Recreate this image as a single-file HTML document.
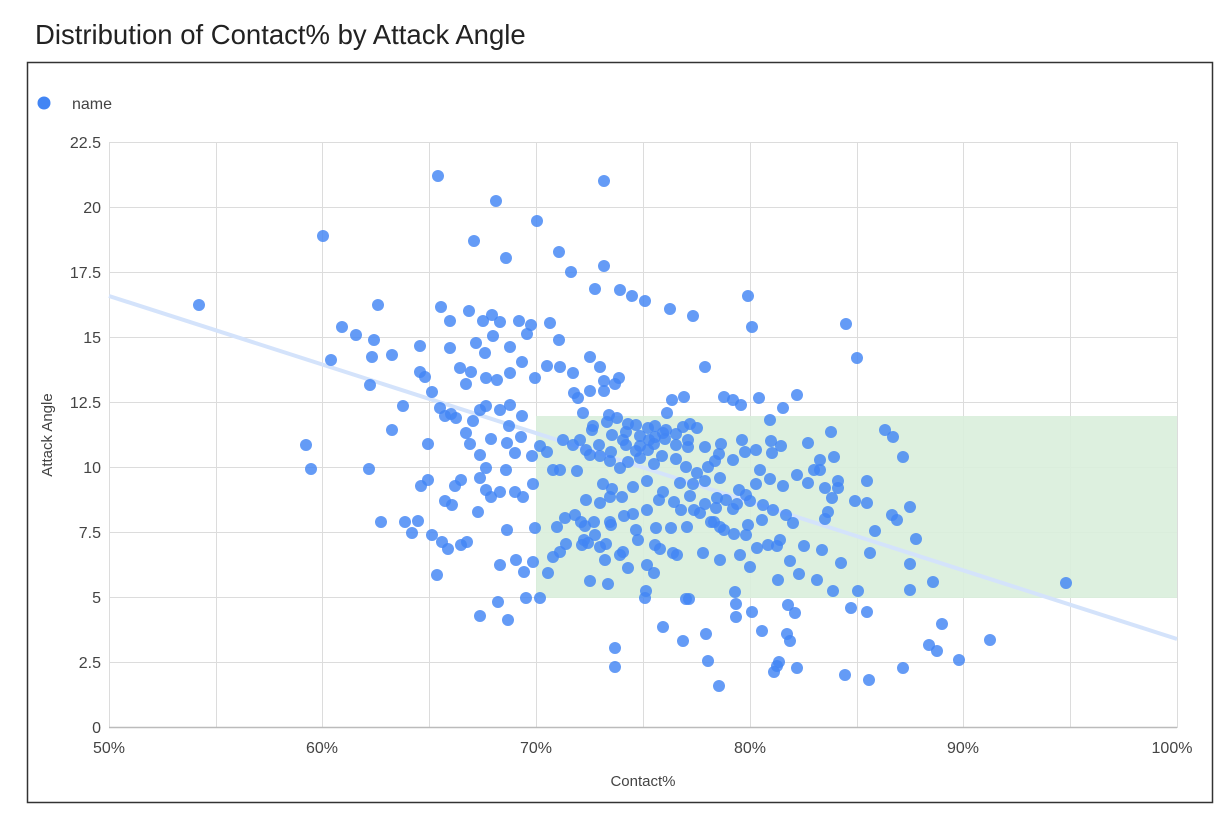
<!DOCTYPE html>
<html><head><meta charset="utf-8"><style>
body{margin:0;background:#fff;width:1232px;height:822px;overflow:hidden;font-family:"Liberation Sans",Arial,sans-serif}
</style></head><body>
<svg width="1232" height="822" xmlns="http://www.w3.org/2000/svg" font-family="Liberation Sans, Arial, sans-serif">
<text x="35" y="44" font-size="27.5" fill="#222">Distribution of Contact% by Attack Angle</text>
<rect x="27.5" y="62.5" width="1185" height="740" fill="#fff" stroke="#333" stroke-width="1.5"/>
<circle cx="44" cy="103" r="6.5" fill="#4285f4"/>
<text x="72" y="109" font-size="16" fill="#444">name</text>
<g stroke="#dcdcdc" stroke-width="1">
<line x1="109" y1="142.5" x2="1177" y2="142.5"/><line x1="109" y1="207.5" x2="1177" y2="207.5"/><line x1="109" y1="272.5" x2="1177" y2="272.5"/><line x1="109" y1="337.5" x2="1177" y2="337.5"/><line x1="109" y1="402.5" x2="1177" y2="402.5"/><line x1="109" y1="467.5" x2="1177" y2="467.5"/><line x1="109" y1="532.5" x2="1177" y2="532.5"/><line x1="109" y1="597.5" x2="1177" y2="597.5"/><line x1="109" y1="662.5" x2="1177" y2="662.5"/>
<line x1="109.5" y1="142" x2="109.5" y2="728"/><line x1="216.5" y1="142" x2="216.5" y2="728"/><line x1="322.5" y1="142" x2="322.5" y2="728"/><line x1="429.5" y1="142" x2="429.5" y2="728"/><line x1="536.5" y1="142" x2="536.5" y2="728"/><line x1="643.5" y1="142" x2="643.5" y2="728"/><line x1="750.5" y1="142" x2="750.5" y2="728"/><line x1="857.5" y1="142" x2="857.5" y2="728"/><line x1="963.5" y1="142" x2="963.5" y2="728"/><line x1="1070.5" y1="142" x2="1070.5" y2="728"/><line x1="1177.5" y1="142" x2="1177.5" y2="728"/>
</g>
<rect x="536" y="416" width="641" height="182" fill="#d9eedc" opacity="0.9"/>
<line x1="109" y1="727.5" x2="1177" y2="727.5" stroke="#bbb" stroke-width="1.5"/>
<line x1="109" y1="296" x2="1177" y2="639" stroke="#d4e3fb" stroke-width="4"/>
<g font-size="16" fill="#444" text-anchor="end">
<text x="101" y="148">22.5</text><text x="101" y="213">20</text><text x="101" y="278">17.5</text><text x="101" y="343">15</text><text x="101" y="408">12.5</text><text x="101" y="473">10</text><text x="101" y="538">7.5</text><text x="101" y="603">5</text><text x="101" y="668">2.5</text><text x="101" y="733">0</text>
</g>
<g font-size="16" fill="#444" text-anchor="middle">
<text x="109" y="753">50%</text><text x="322" y="753">60%</text><text x="536" y="753">70%</text><text x="750" y="753">80%</text><text x="963" y="753">90%</text><text x="1172" y="753">100%</text>
<text x="643" y="786" font-size="15">Contact%</text>
</g>
<text transform="translate(52,435) rotate(-90)" font-size="15" fill="#444" text-anchor="middle">Attack Angle</text>
<g id="pts" fill="#4285f4" fill-opacity="0.82"></g>
</svg>
<script>
var p=[[199,305],[323,236],[438,176],[604,181],[496,201],[537,221],[474,241],[559,252],[506,258],[604,266],[571,272],[595,289],[620,290],[632,296],[645,301],[670,309],[748,296],[752,327],[693,316],[378,305],[342,327],[356,335],[374,340],[331,360],[392,355],[420,346],[441,307],[469,311],[450,321],[483,321],[492,315],[500,322],[519,321],[531,325],[550,323],[559,340],[420,372],[425,377],[372,357],[370,385],[403,406],[392,430],[450,348],[476,343],[471,372],[485,353],[493,336],[460,368],[510,347],[527,334],[466,384],[486,378],[497,380],[510,373],[522,362],[535,378],[547,366],[560,367],[573,373],[590,357],[600,367],[604,381],[619,378],[574,393],[578,398],[590,391],[604,391],[615,384],[583,413],[609,415],[593,426],[612,435],[623,440],[640,436],[655,426],[667,413],[672,400],[684,397],[705,367],[724,397],[733,400],[741,405],[759,398],[783,408],[797,395],[772,453],[721,444],[715,461],[781,446],[808,443],[808,483],[820,460],[797,668],[787,634],[777,666],[663,627],[686,599],[735,592],[778,580],[817,580],[799,574],[790,561],[804,546],[793,523],[780,540],[768,545],[757,548],[746,535],[734,534],[724,530],[714,522],[733,509],[717,498],[700,513],[687,527],[671,528],[655,545],[677,555],[647,565],[628,568],[654,573],[620,555],[605,560],[582,545],[560,552],[553,557],[548,573],[535,528],[557,527],[566,544],[585,526],[595,535],[611,525],[633,514],[647,510],[659,500],[680,483],[693,484],[705,481],[720,478],[739,490],[746,495],[756,484],[760,470],[770,479],[783,486],[797,475],[814,470],[777,546],[720,560],[703,553],[673,553],[660,549],[623,552],[600,547],[588,543],[533,562],[507,530],[500,565],[524,572],[526,598],[498,602],[508,620],[540,598],[461,545],[448,549],[437,575],[442,542],[432,535],[418,521],[405,522],[381,522],[306,445],[311,469],[369,469],[428,444],[428,480],[412,533],[421,486],[452,505],[478,512],[480,455],[486,468],[480,478],[470,444],[466,433],[480,410],[486,406],[500,410],[510,405],[522,416],[509,426],[507,443],[491,439],[473,421],[456,418],[440,408],[445,416],[432,392],[451,414],[521,437],[515,453],[532,456],[540,446],[547,452],[553,470],[533,484],[523,497],[515,492],[500,492],[491,497],[486,490],[455,486],[461,480],[445,501],[506,470],[560,470],[577,471],[590,455],[600,456],[610,461],[620,468],[628,462],[640,458],[654,464],[662,456],[676,459],[686,467],[697,473],[708,467],[719,454],[733,460],[745,452],[756,450],[771,441],[705,447],[688,447],[676,445],[665,439],[649,440],[636,451],[626,445],[611,452],[599,445],[586,450],[573,445],[563,440],[580,440],[592,430],[607,422],[617,418],[628,424],[636,425],[648,428],[655,437],[666,430],[683,427],[690,424],[697,428],[688,440],[676,434],[663,433],[654,444],[648,450],[640,446],[626,432],[603,484],[612,489],[622,497],[633,487],[647,481],[663,492],[674,502],[681,510],[694,510],[705,504],[716,508],[726,500],[737,504],[750,501],[763,505],[773,510],[786,515],[748,525],[762,520],[750,567],[740,555],[711,522],[690,496],[720,527],[610,497],[600,503],[586,500],[575,515],[565,518],[581,522],[594,522],[610,522],[624,516],[636,530],[656,528],[638,540],[606,544],[584,540],[480,616],[467,542],[516,560],[590,581],[770,420],[742,440],
[608,584],[646,591],[645,598],[689,599],[736,604],[736,617],[752,612],[788,605],[795,613],[683,641],[706,634],[762,631],[790,641],[615,648],[615,667],[708,661],[779,662],[774,672],[719,686],
[831,432],[885,430],[893,437],[834,457],[903,457],[838,481],[867,481],[838,488],[832,498],[855,501],[867,503],[910,507],[828,512],[825,519],[892,515],[897,520],[875,531],[916,539],[822,550],[870,553],[841,563],[910,564],[833,591],[858,591],[910,590],[933,582],[1066,583],[851,608],[867,612],[942,624],[929,645],[937,651],[959,660],[990,640],[845,675],[869,680],[903,668],[846,324],[857,358],[820,470],[825,488]];
var g=document.getElementById('pts'),s='';
p.forEach(function(a){s+='<circle cx="'+a[0]+'" cy="'+a[1]+'" r="6"/>';});
g.innerHTML=s;
</script>
</body></html>
